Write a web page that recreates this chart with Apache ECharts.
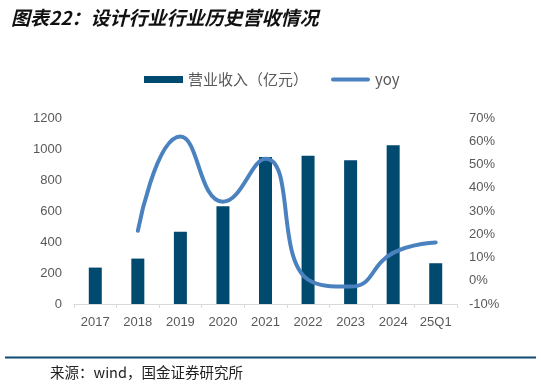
<!DOCTYPE html>
<html><head><meta charset="utf-8">
<script src="https://cdn.jsdelivr.net/npm/echarts@6/dist/echarts.min.js"></script>
<style>html,body{margin:0;padding:0;background:#fff}#c{width:541px;height:386px}</style>
</head><body><div id="c"></div>
<script>
const categories = ['2017','2018','2019','2020','2021','2022','2023','2024','25Q1'];
const revenue = [235, 293, 466, 631, 948, 956, 928, 1025, 263];
const yoy = [null, 21.5, 62, 34, 52.5, 0.5, -2.5, 12, 16.5];
const leftTicks = [0, 200, 400, 600, 800, 1000, 1200];
const rightTicks = [-10, 0, 10, 20, 30, 40, 50, 60, 70];

const chart = echarts.init(document.getElementById('c'), null, {renderer: 'canvas'});
const labelColor = '#595959';
chart.setOption({
  animation: false,
  title: {
    text: '图表22：设计行业行业历史营收情况',
    left: 6, top: 3,
    textStyle: {fontSize: 19, fontWeight: 'bold', fontStyle: 'italic', color: '#111', fontFamily: 'Noto Sans CJK SC'}
  },
  legend: {
    top: 72, left: 144, padding: 0,
    itemGap: 23,
    itemWidth: 39, itemHeight: 7,
    textStyle: {color: labelColor, fontSize: 15, fontFamily: 'Noto Sans CJK SC'},
    data: [
      {name: '营业收入（亿元）', icon: 'rect'},
      {name: 'yoy', icon: 'path://M2,0 L38,0 A2,2 0 0 1 38,4 L2,4 A2,2 0 0 1 2,0 Z', itemStyle: {color: '#4A81BF'}}
    ]
  },
  grid: {left: 74, right: 84, top: 118, bottom: 82},
  xAxis: {
    type: 'category', data: categories, boundaryGap: true,
    axisLine: {lineStyle: {color: '#d9d9d9', width: 1}},
    axisTick: {show: true, alignWithLabel: false, length: 4, lineStyle: {color: '#d9d9d9'}},
    axisLabel: {color: labelColor, fontSize: 13, margin: 12, fontFamily: 'Liberation Sans'}
  },
  yAxis: [
    {
      type: 'value', min: leftTicks[0], max: leftTicks[leftTicks.length - 1], interval: 200,
      splitLine: {show: false}, axisLine: {show: false}, axisTick: {show: false},
      axisLabel: {color: labelColor, fontSize: 13, margin: 12, fontFamily: 'Liberation Sans', formatter: v => String(v)}
    },
    {
      type: 'value', min: rightTicks[0], max: rightTicks[rightTicks.length - 1], interval: 10,
      splitLine: {show: false}, axisLine: {show: false}, axisTick: {show: false},
      axisLabel: {color: labelColor, fontSize: 13, margin: 12, fontFamily: 'Liberation Sans', formatter: v => v + '%'}
    }
  ],
  series: [
    {
      name: '营业收入（亿元）', type: 'bar', data: revenue, barWidth: 13,
      itemStyle: {color: '#00496F'}
    },
    {
      name: 'yoy', type: 'line', yAxisIndex: 1, data: yoy, smooth: 0.5,
      showSymbol: false, symbol: 'none', connectNulls: false,
      lineStyle: {color: '#4A81BF', width: 4, cap: 'round'},
      itemStyle: {color: '#4A81BF'}
    }
  ],
  graphic: [
    {type: 'line', shape: {x1: 5, y1: 357.5, x2: 536, y2: 357.5}, style: {stroke: '#0E4A70', lineWidth: 2}},
    {type: 'text', left: 50, top: 365, style: {text: '来源：wind，国金证券研究所', fontSize: 14.5, fill: '#222', fontFamily: 'Noto Sans CJK SC'}}
  ]
});
</script></body></html>
